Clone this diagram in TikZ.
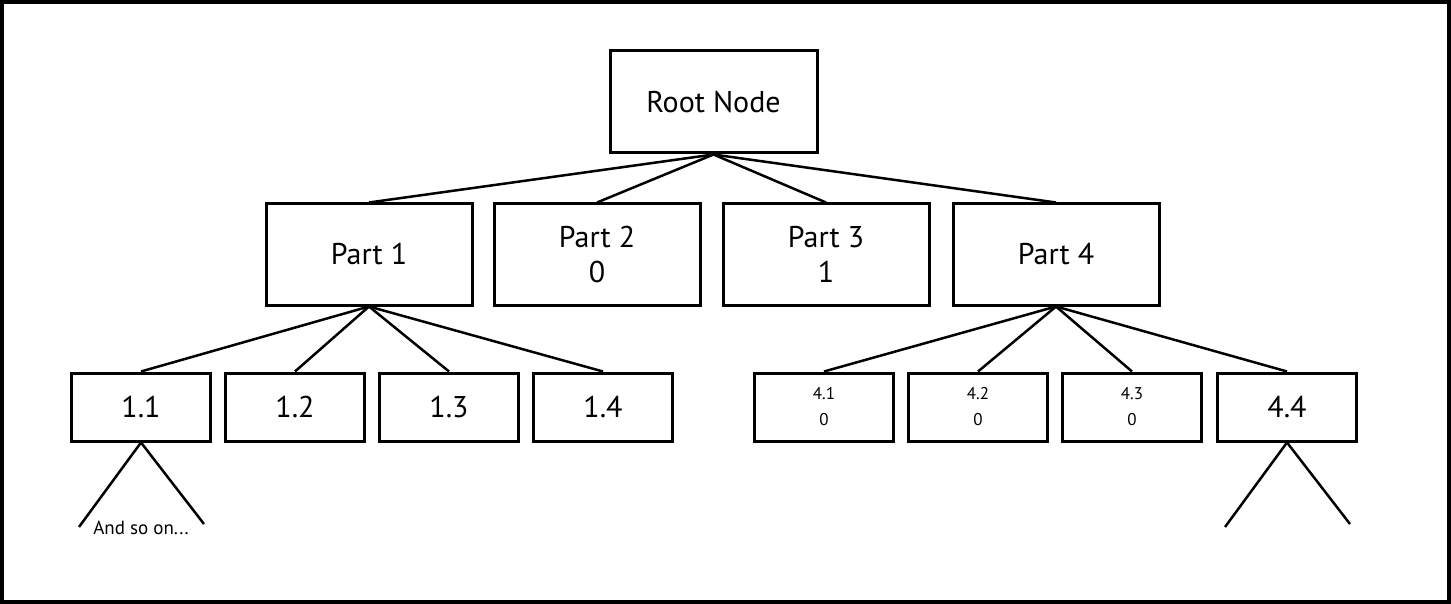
\documentclass[tikz,border=0pt]{standalone}
\usepackage{fontspec}
\setmainfont{PT Sans}

\begin{document}
\begin{tikzpicture}[x=1pt, y=-1pt,
  box/.style={draw, line width=3pt, minimum width=206pt, minimum height=101pt,
    inner sep=0pt, align=center, font=\fontsize{30}{35}\selectfont},
  leaf/.style={box, minimum width=139pt, minimum height=68pt},
  small/.style={font=\fontsize{17}{26}\selectfont},
  edge/.style={line width=2.5pt}]

\useasboundingbox (0,0) rectangle (1451,604);
\draw[line width=4pt] (2,2) rectangle (1449,602);

\node[box, minimum width=207pt, minimum height=102pt] (root) at (713.5,102) {Root Node};

\foreach \x/\n/\t in {369/1/{Part 1}, 597/2/{Part 2\\0}, 826/3/{Part 3\\1}, 1056/4/{Part 4}}
	{\node[box] (p\n) at (\x,254.5) {\t};
	 \draw[edge] (root.south) -- (p\n.north);}

\foreach \x/\n in {141/1, 295/2, 449/3, 603/4}
	{\node[leaf] (l1\n) at (\x,407) {1.\n};
	 \draw[edge] (p1.south) -- (l1\n.north);}

\foreach \x/\n in {824/1, 978/2, 1132/3}
	{\node[leaf, small] (l4\n) at (\x,407) {4.\n\\0};
	 \draw[edge] (p4.south) -- (l4\n.north);}
\node[leaf] (l44) at (1287,407) {4.4};
\draw[edge] (p4.south) -- (l44.north);

% branches below
\coordinate (a1) at (79,527);
\coordinate (a2) at (204,524);
\coordinate (b1) at (1225,527);
\coordinate (b2) at (1350,524);
\draw[edge] (a1) -- (l11.south) -- (a2);
\draw[edge] (b1) -- (l44.south) -- (b2);
\node[font=\fontsize{19}{22}\selectfont] (more) at (141,528) {And so on...};

\end{tikzpicture}
\end{document}
